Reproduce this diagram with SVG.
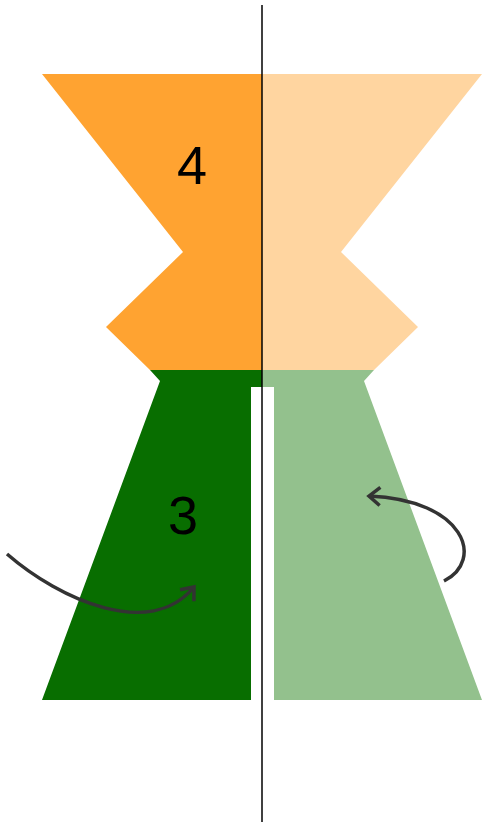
<svg xmlns="http://www.w3.org/2000/svg" width="483" height="825" viewBox="0 0 483 825">
<defs>
<style>
.lbl{font-family:"Liberation Sans",Arial,sans-serif;font-size:54px;fill:#000;text-anchor:middle}
.arr{fill:none;stroke:#333;stroke-width:3.5;stroke-linecap:butt}
</style>
<marker id="ah" viewBox="0 0 16 22" refX="13" refY="11" markerWidth="16" markerHeight="22" markerUnits="userSpaceOnUse" orient="auto">
<path d="M2,2 L13,11 L2,20" fill="none" stroke="#333" stroke-width="3.5"/>
</marker>
</defs>
<rect width="483" height="825" fill="#fff"/>
<g id="node-green-left">
<polygon points="150,370 262,370 262,387 251,387 251,700 42,700 160,381" fill="#086e00"/>
</g>
<g id="node-green-right">
<polygon points="374,370 262,370 262,387 274,387 274,700 482,700 364,381" fill="#93c18d"/>
</g>
<g id="node-orange-left">
<polygon points="42,74 262,74 262,370 150,370 106,327 183,252" fill="#ffa331"/>
<text class="lbl" x="192" y="184">4</text>
</g>
<g id="node-orange-right">
<polygon points="482,74 262,74 262,370 374,370 418,327 341,252" fill="#ffd5a0"/>
</g>
<g id="label-3">
<text class="lbl" x="183" y="534">3</text>
</g>
<g id="axis">
<line x1="262" y1="5" x2="262" y2="822" stroke="#000" stroke-width="1.5"/>
</g>
<g id="connectors">
<path class="arr" d="M7,554 C60,600 150,640 194,587" marker-end="url(#ah)"/>
<path class="arr" d="M444,581 C485,560 465,500 369,496" marker-end="url(#ah)"/>
</g>
</svg>
